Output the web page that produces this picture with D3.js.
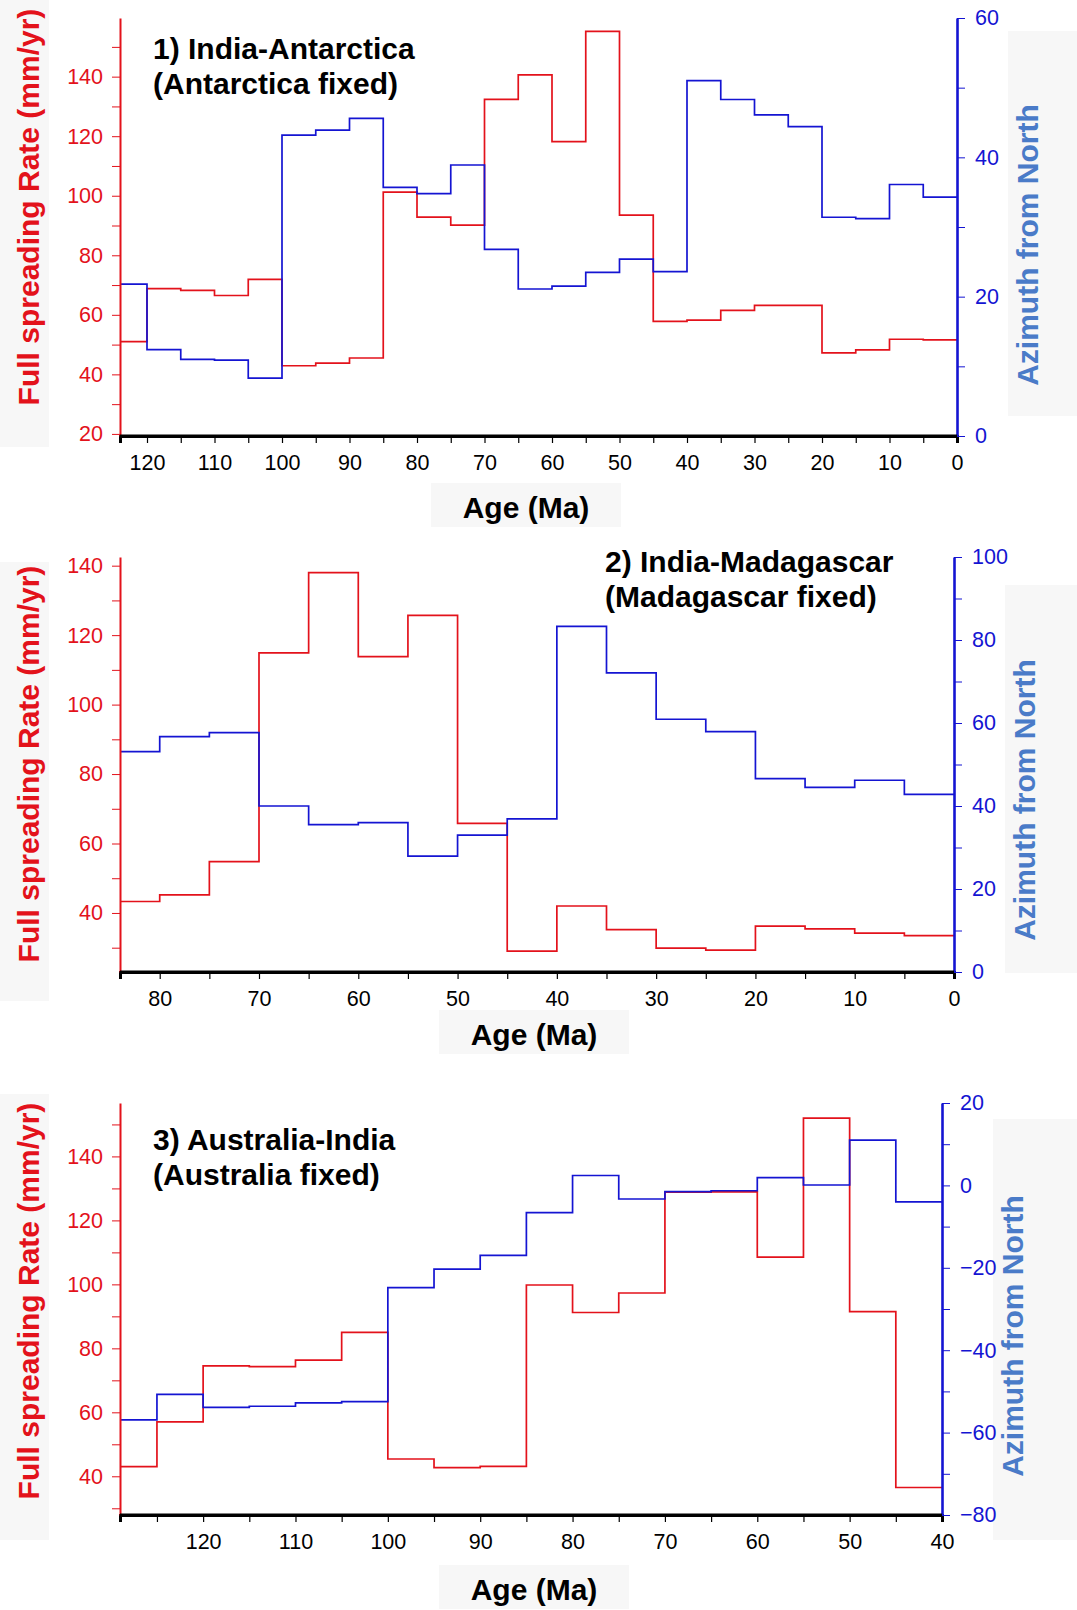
<!DOCTYPE html>
<meta charset="utf-8">
<script src="https://d3js.org/d3.v7.min.js"></script>
<style>
body { margin: 0; background: #fff; }
svg { display: block; font-family: "Liberation Sans", Arial, Helvetica, sans-serif; }
.ttl { font-weight: bold; font-size: 30px; fill: #000; }
.lab { font-weight: bold; font-size: 30px; }
.tick text { font-size: 21.5px; }
</style>
<body></body>
<script>
// ---- data (age bins in Ma, rate in mm/yr, azimuth in degrees) ----
var ages1 = [124,120,115,110,105,100,95,90,85,80,75,70,65,60,55,50,45,40,35,30,25,20,15,10,5,0];
var rate1 = [51,68.8,68.2,66.5,71.9,42.9,43.8,45.5,101.2,92.8,90.1,132.4,140.6,118.2,155.2,93.5,57.8,58.2,61.5,63.2,63.2,47.2,48.2,51.8,51.6];
var azim1 = [21.8,12.4,11.0,10.9,8.3,43.2,43.9,45.6,35.7,34.8,38.9,26.8,21.1,21.5,23.5,25.4,23.6,51.0,48.3,46.1,44.4,31.4,31.2,36.1,34.3];

var ages2 = [84,80,75,70,65,60,55,50,45,40,35,30,25,20,15,10,5,0];
var rate2 = [43.3,45.2,54.8,114.9,138.0,113.8,125.7,65.8,29.0,42.0,35.2,29.9,29.3,36.2,35.4,34.2,33.5];
var azim2 = [53.1,56.7,57.7,40.0,35.5,36.0,27.9,33.0,36.9,83.3,72.1,60.9,57.9,46.6,44.5,46.2,42.8];

var ages3 = [129,125,120,115,110,105,100,95,90,85,80,75,70,65,60,55,50,45,40];
var rate3 = [43.0,57.0,74.5,74.3,76.3,85.0,45.4,42.7,43.1,99.8,91.2,97.3,128.8,128.9,108.5,152.0,91.5,36.5];
var azim3 = [-56.9,-50.7,-53.9,-53.6,-52.8,-52.5,-24.8,-20.3,-17.0,-6.6,2.4,-3.3,-1.5,-1.3,1.9,0.1,11.0,-4.0];

// tick labels
var ageLabels1 = [120,110,100,90,80,70,60,50,40,30,20,10,0];
var ageLabels2 = [80,70,60,50,40,30,20,10,0];
var ageLabels3 = [120,110,100,90,80,70,60,50,40];
var rateLabels1 = [20,40,60,80,100,120,140];
var rateLabels2 = [40,60,80,100,120,140];
var rateLabels3 = [40,60,80,100,120,140];
var azimLabels1 = [0,20,40,60];
var azimLabels2 = [0,20,40,60,80,100];
var azimLabels3 = [-80,-60,-40,-20,0,20];

var titles = [
  ["1) India-Antarctica", "(Antarctica fixed)"],
  ["2) India-Madagascar", "(Madagascar fixed)"],
  ["3) Australia-India", "(Australia fixed)"]
];

var RED = "#e3121b", BLUE = "#1414d2", AZT = "#4a7bc8", BOX = "#f7f7f7";

var panels = [
  {ages: ages1, rate: rate1, azim: azim1, ageLab: ageLabels1, rateLab: rateLabels1, azLab: azimLabels1,
   l: 120, r: 957, t: 18, b: 436, rateDom: [19.3, 159.7], azDom: [0, 60], rateMinor: [20, 150],
   title: titles[0], tx: 153, ty: 59, ageX: 526, ageY: 518,
   leftMid: 207, leftBox: [0, 447], azMid: 245, azBox: [31, 416]},
  {ages: ages2, rate: rate2, azim: azim2, ageLab: ageLabels2, rateLab: rateLabels2, azLab: azimLabels2,
   l: 120, r: 954, t: 557, b: 972, rateDom: [23, 142.5], azDom: [0, 100], rateMinor: [30, 140],
   title: titles[1], tx: 605, ty: 572, ageX: 534, ageY: 1045,
   leftMid: 764, leftBox: [562, 1001], azMid: 800, azBox: [585, 973]},
  {ages: ages3, rate: rate3, azim: azim3, ageLab: ageLabels3, rateLab: rateLabels3, azLab: azimLabels3,
   l: 120, r: 942, t: 1103, b: 1515, rateDom: [27.9, 156.7], azDom: [-80, 20], rateMinor: [30, 150],
   title: titles[2], tx: 153, ty: 1150, ageX: 534, ageY: 1600,
   leftMid: 1301, leftBox: [1094, 1540], azMid: 1336, azBox: [1119, 1540]}
];

var svg = d3.select("body").append("svg")
    .attr("width", 1077)
    .attr("height", 1610);

function steps(ages, vals) {
  var pts = vals.map(function(v, i) { return [ages[i], v]; });
  pts.push([ages[ages.length - 1], vals[vals.length - 1]]);
  return pts;
}

panels.forEach(function(p) {
  var g = svg.append("g");
  var x = d3.scaleLinear().domain([p.ages[0], p.ages[p.ages.length - 1]]).range([p.l, p.r]);
  var yR = d3.scaleLinear().domain(p.rateDom).range([p.b, p.t]);
  var yA = d3.scaleLinear().domain(p.azDom).range([p.b, p.t]);

  // faint label backgrounds
  g.append("rect").attr("x", 0).attr("y", p.leftBox[0]).attr("width", 49)
    .attr("height", p.leftBox[1] - p.leftBox[0]).attr("fill", BOX);
  g.append("rect").attr("x", p.r + 51).attr("y", p.azBox[0]).attr("width", 1077 - p.r - 51)
    .attr("height", p.azBox[1] - p.azBox[0]).attr("fill", BOX);
  g.append("rect").attr("x", p.ageX - 95).attr("y", p.ageY - 35).attr("width", 190).attr("height", 44).attr("fill", BOX);

  // step lines
  var line = d3.line().curve(d3.curveStepAfter);
  g.append("path")
    .attr("d", line(steps(p.ages, p.rate).map(function(d) { return [x(d[0]), yR(d[1])]; })))
    .attr("fill", "none").attr("stroke", RED).attr("stroke-width", 1.7);
  g.append("path")
    .attr("d", line(steps(p.ages, p.azim).map(function(d) { return [x(d[0]), yA(d[1])]; })))
    .attr("fill", "none").attr("stroke", BLUE).attr("stroke-width", 1.7);

  // x axis
  var lo = p.ages[p.ages.length - 1], hi = p.ages[0];
  var xTicks = d3.range(Math.ceil(lo / 5) * 5, hi + 0.1, 5).filter(function(d) { return d <= hi; });
  var xa = g.append("g").attr("transform", "translate(0," + p.b + ")")
    .call(d3.axisBottom(x).tickValues(xTicks).tickSize(7).tickPadding(12)
      .tickFormat(function(d) { return p.ageLab.indexOf(d) >= 0 ? d : ""; }));
  xa.select(".domain").attr("stroke", "#000").attr("stroke-width", 3);
  xa.selectAll(".tick line").attr("stroke", "#000").attr("stroke-width", 1.2);
  xa.selectAll(".tick text").attr("fill", "#000");

  // left axis (rate)
  var rTicks = d3.range(p.rateMinor[0], p.rateMinor[1] + 0.1, 10);
  var ra = g.append("g").attr("transform", "translate(" + p.l + ",0)")
    .call(d3.axisLeft(yR).tickValues(rTicks).tickSize(8).tickSizeOuter(0).tickPadding(9)
      .tickFormat(function(d) { return p.rateLab.indexOf(d) >= 0 ? d : ""; }));
  ra.select(".domain").attr("stroke", RED).attr("stroke-width", 2);
  ra.selectAll(".tick line").attr("stroke", RED);
  ra.selectAll(".tick text").attr("fill", RED);

  // right axis (azimuth)
  var aTicks = d3.range(p.azDom[0], p.azDom[1] + 0.1, 10);
  var aa = g.append("g").attr("transform", "translate(" + p.r + ",0)")
    .call(d3.axisRight(yA).tickValues(aTicks).tickSize(8).tickSizeOuter(0).tickPadding(10)
      .tickFormat(function(d) { return p.azLab.indexOf(d) >= 0 ? String(d).replace("-", "\u2212") : ""; }));
  aa.select(".domain").attr("stroke", BLUE).attr("stroke-width", 2.6);
  aa.selectAll(".tick line").attr("stroke", BLUE);
  aa.selectAll(".tick text").attr("fill", BLUE);

  // redraw the bottom axis line over the left/right domains
  g.append("line").attr("x1", p.l).attr("x2", p.r).attr("y1", p.b).attr("y2", p.b)
    .attr("stroke", "#000").attr("stroke-width", 3);

  // axis titles
  g.append("text").attr("class", "lab").attr("fill", RED)
    .attr("transform", "translate(39," + p.leftMid + ") rotate(-90)")
    .attr("text-anchor", "middle").text("Full spreading Rate (mm/yr)");
  g.append("text").attr("class", "lab").attr("fill", AZT)
    .attr("transform", "translate(" + (p.r + 81) + "," + p.azMid + ") rotate(-90)")
    .attr("text-anchor", "middle").text("Azimuth from North");
  g.append("text").attr("class", "lab").attr("fill", "#000")
    .attr("x", p.ageX).attr("y", p.ageY)
    .attr("text-anchor", "middle").text("Age (Ma)");

  // panel title
  g.append("text").attr("class", "ttl").attr("x", p.tx).attr("y", p.ty).text(p.title[0]);
  g.append("text").attr("class", "ttl").attr("x", p.tx).attr("y", p.ty + 35).text(p.title[1]);
});
</script>
